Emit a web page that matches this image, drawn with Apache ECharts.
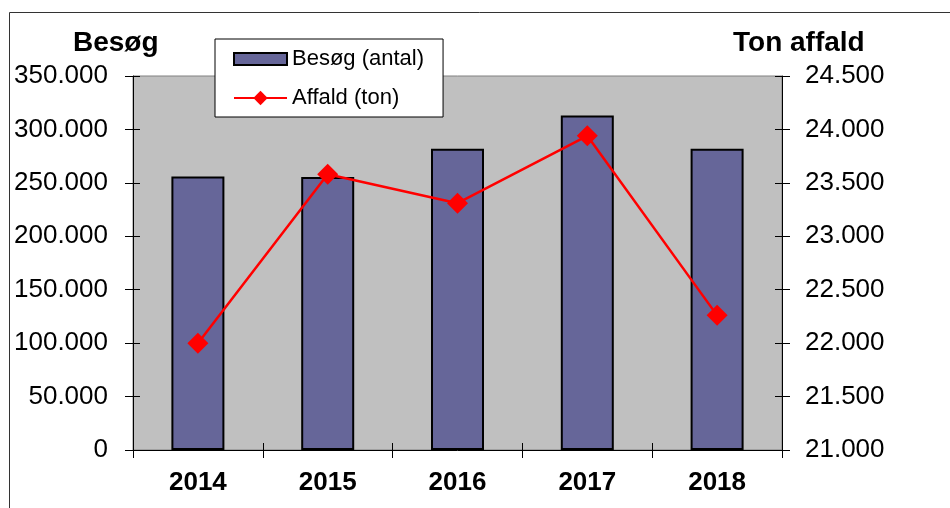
<!DOCTYPE html>
<html>
<head>
<meta charset="utf-8">
<script src="https://cdn.jsdelivr.net/npm/echarts@6/dist/echarts.min.js"></script>
<style>
  html, body { margin: 0; padding: 0; background: #fff; }
  #main { width: 950px; height: 508px; }
</style>
</head>
<body>
<div id="main"></div>
<script>
// data
var years = ['2014', '2015', '2016', '2017', '2018'];
var besoeg = [256000, 255500, 282000, 313000, 282000];
var affald = [22000, 23580, 23310, 23940, 22260];
var leftTitle = 'Besøg';
var rightTitle = 'Ton affald';

var FONT = '"Liberation Sans", Arial, sans-serif';

// danish thousands separator
function dk(v) {
    return String(v).replace(/\B(?=(\d{3})+(?!\d))/g, '.');
}

var chart = echarts.init(document.getElementById('main'));

var tickOut = { show: true, inside: false, length: 8, lineStyle: { color: '#000', width: 1 } };
var tickIn = { show: true, inside: true, length: 7, lineStyle: { color: '#000', width: 1 } };

var option = {
    animation: false,
    backgroundColor: '#fff',
    grid: {
        left: 133,
        right: 168,
        top: 76,
        bottom: 58,
        show: true,
        backgroundColor: '#c0c0c0',
        borderColor: '#808080',
        borderWidth: 1
    },
    graphic: [
        // outer frame of the chart area
        {
            type: 'polyline',
            shape: { points: [[9.5, 508], [9.5, 12.5], [950, 12.5]] },
            style: { stroke: '#333', lineWidth: 1, fill: null }
        },
        {
            type: 'text', left: 73, top: 29,
            style: { text: leftTitle, font: 'bold 28px ' + FONT, fill: '#000' }
        },
        {
            type: 'text', left: 733, top: 29,
            style: { text: rightTitle, font: 'bold 28px ' + FONT, fill: '#000' }
        }
    ],
    legend: {
        orient: 'vertical',
        left: 215,
        top: 39,
        padding: [9, 19, 8, 18],
        itemGap: 17,
        itemWidth: 53,
        itemHeight: 18,
        symbolKeepAspect: true,
        backgroundColor: '#fff',
        borderColor: '#000',
        borderWidth: 1,
        borderRadius: 0,
        textStyle: { fontFamily: FONT, fontSize: 22, color: '#000' },
        data: [
            { name: 'Besøg (antal)', icon: 'path://M0,0H53V12H0Z' },
            { name: 'Affald (ton)' }
        ]
    },
    xAxis: [{
        type: 'category',
        data: years,
        position: 'bottom',
        axisLine: { lineStyle: { color: '#000', width: 1 } },
        axisTick: tickOut,
        axisLabel: { margin: 20, fontFamily: FONT, fontSize: 26, fontWeight: 'bold', color: '#000' },
        splitLine: { show: false }
    }, {
        type: 'category',
        data: years,
        position: 'bottom',
        axisLine: { show: false },
        axisTick: tickIn,
        axisLabel: { show: false },
        splitLine: { show: false }
    }],
    yAxis: [{
        type: 'value',
        position: 'left',
        min: 0,
        max: 350000,
        interval: 50000,
        axisLine: { show: true, lineStyle: { color: '#000', width: 1 } },
        axisTick: tickOut,
        axisLabel: { margin: 25, fontFamily: FONT, fontSize: 26, color: '#000', formatter: dk },
        splitLine: { show: false }
    }, {
        type: 'value',
        position: 'right',
        min: 21000,
        max: 24500,
        interval: 500,
        axisLine: { show: true, lineStyle: { color: '#000', width: 1 } },
        axisTick: tickOut,
        axisLabel: { margin: 23, fontFamily: FONT, fontSize: 26, color: '#000', formatter: dk },
        splitLine: { show: false }
    }, {
        type: 'value',
        position: 'left',
        min: 0,
        max: 350000,
        interval: 50000,
        axisLine: { show: false },
        axisTick: tickIn,
        axisLabel: { show: false },
        splitLine: { show: false }
    }, {
        type: 'value',
        position: 'right',
        min: 21000,
        max: 24500,
        interval: 500,
        axisLine: { show: false },
        axisTick: tickIn,
        axisLabel: { show: false },
        splitLine: { show: false }
    }],
    series: [{
        name: 'Besøg (antal)',
        type: 'bar',
        xAxisIndex: 0,
        yAxisIndex: 0,
        barWidth: 53,
        itemStyle: { color: '#666699', borderColor: '#000', borderWidth: 2 },
        data: besoeg
    }, {
        name: 'Affald (ton)',
        type: 'line',
        xAxisIndex: 0,
        yAxisIndex: 1,
        symbol: 'diamond',
        symbolSize: 21,
        itemStyle: { color: '#ff0000' },
        lineStyle: { color: '#ff0000', width: 2.5 },
        data: affald
    }]
};

chart.setOption(option);
</script>
</body>
</html>
